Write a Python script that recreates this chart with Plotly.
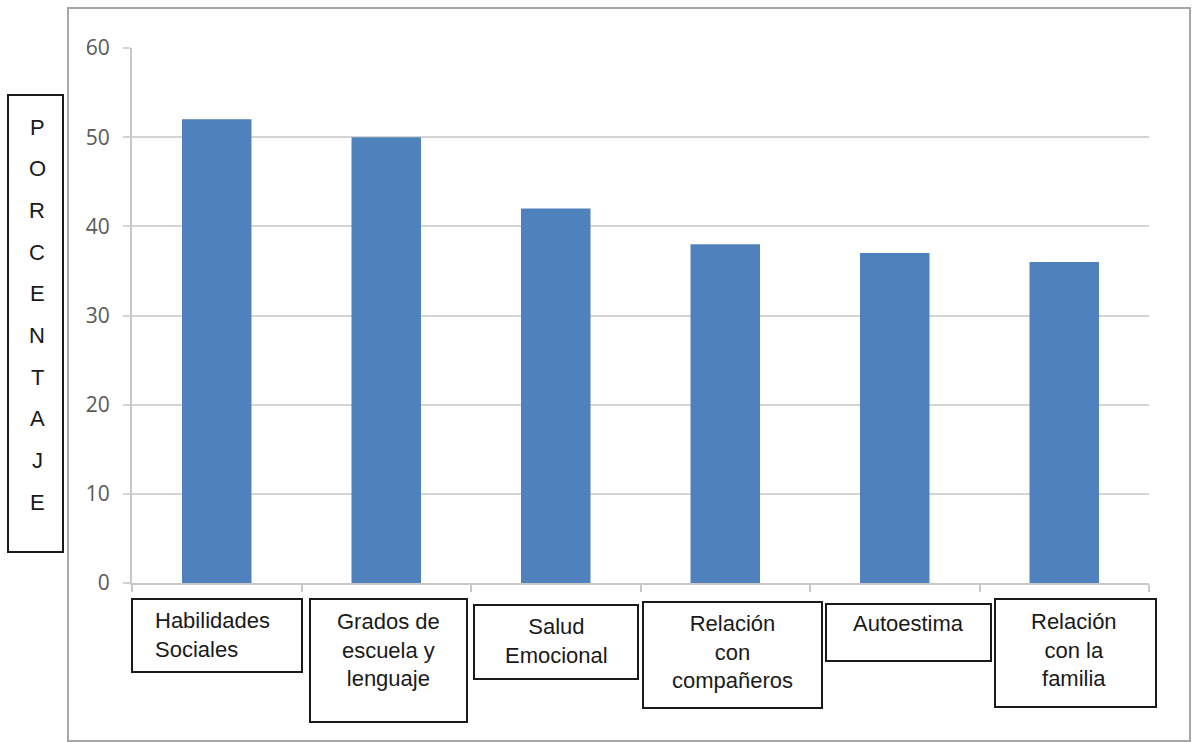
import plotly.graph_objects as go

# ---- data ----
categories = ["Habilidades Sociales", "Grados de escuela y lenguaje", "Salud Emocional",
              "Relación con compañeros", "Autoestima", "Relación con la familia"]
label_lines = [["Habilidades", "Sociales"],
               ["Grados de", "escuela y", "lenguaje"],
               ["Salud", "Emocional"],
               ["Relación", "con", "compañeros"],
               ["Autoestima"],
               ["Relación", "con la", "familia"]]
values = [52, 50, 42, 38, 37, 36]
y_title = "PORCENTAJE"

# ---- layout geometry (pixels) ----
W, H = 1196, 742
PL, PR, PT, PB = 132, 1149, 48, 583
pw, ph = PR - PL, PB - PT

def px(x):
    return (x - PL) / pw

def py(y):
    return (PB - y) / ph

# label boxes: (x0, y0, x1, y1) and text anchor (x, y_mid, align)
boxes = [(132, 599, 302, 672), (310, 599, 467, 722), (474, 605, 638, 679),
         (643, 602, 822, 708), (826, 604, 991, 661), (995, 599, 1156, 707)]
text_pos = [(153, 635, "left"), (388, 650, "center"), (556, 641, "center"),
            (732, 652, "center"), (908, 623, "center"), (1074, 650, "center")]

fig = go.Figure(go.Bar(x=categories, y=values, marker=dict(color="#4f81bd", line=dict(width=0)),
                       hoverinfo="x+y"))

shapes = []
annotations = []

# outer frame
shapes.append(dict(type="rect", xref="paper", yref="paper",
                   x0=px(68), x1=px(1190), y0=py(741), y1=py(8),
                   line=dict(color="#a6a6a6", width=2), layer="below"))

# category label boxes and texts
for (x0, y0, x1, y1), (tx, ty, al), lines in zip(boxes, text_pos, label_lines):
    shapes.append(dict(type="rect", xref="paper", yref="paper",
                       x0=px(x0), x1=px(x1), y0=py(y1), y1=py(y0),
                       line=dict(color="#1a1a1a", width=2), fillcolor="white"))
    annotations.append(dict(xref="paper", yref="paper", x=px(tx), y=py(ty),
                            xanchor="left" if al == "left" else "center", yanchor="middle",
                            align=al, showarrow=False, text="<br>".join(lines),
                            font=dict(family="Liberation Sans, Arial", size=22, color="#1a1a1a")))

# y title box with stacked letters
shapes.append(dict(type="rect", xref="paper", yref="paper",
                   x0=px(8), x1=px(63), y0=py(552), y1=py(95),
                   line=dict(color="#1a1a1a", width=2), fillcolor="white"))
n = len(y_title)
for i, ch in enumerate(y_title):
    yy = 127 + i * (502 - 127) / (n - 1)
    annotations.append(dict(xref="paper", yref="paper", x=px(37), y=py(yy),
                            xanchor="center", yanchor="middle", showarrow=False, text=ch,
                            font=dict(family="Liberation Sans, Arial", size=22, color="#1a1a1a")))

fig.update_layout(
    width=W, height=H, autosize=False,
    margin=dict(l=PL, r=W - PR, t=PT, b=H - PB, pad=0),
    paper_bgcolor="white", plot_bgcolor="white",
    bargap=0.59, showlegend=False,
    shapes=shapes, annotations=annotations,
    xaxis=dict(showticklabels=False, showline=True, linecolor="#c8c8c8", linewidth=2,
               ticks="outside", tickson="boundaries", ticklen=7, tickcolor="#c8c8c8", tickwidth=2,
               showgrid=False, zeroline=False, fixedrange=True),
    yaxis=dict(range=[0, 60], dtick=10, showgrid=True, gridcolor="#d4d4d4", gridwidth=2,
               showline=True, linecolor="#c8c8c8", linewidth=2,
               ticks="outside", ticklen=7, tickcolor="#d4d4d4", tickwidth=2,
               ticklabelstandoff=9, zeroline=False,
               tickfont=dict(family="Open Sans", size=21, color="#595959"), fixedrange=True),
)

fig.write_html("out.html")
